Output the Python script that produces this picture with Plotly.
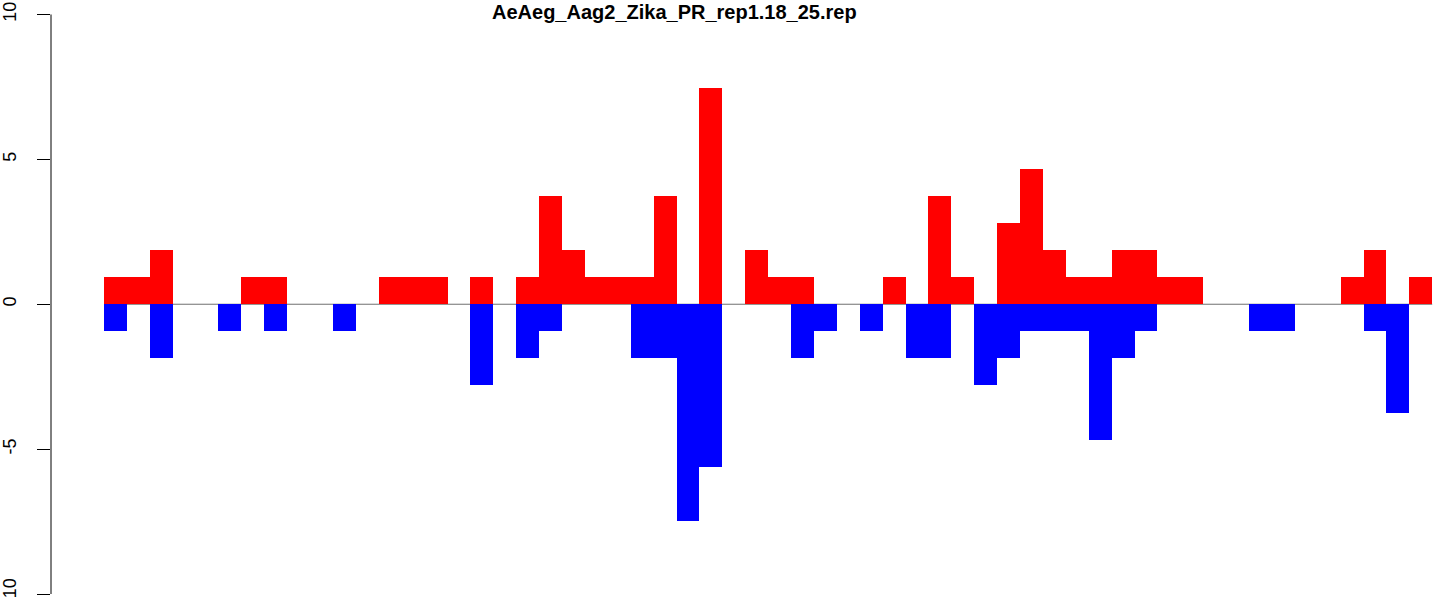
import plotly.graph_objects as go

# bin index (1..58) along the sequence
bins = list(range(1, 59))

# upper (red) values
sense = [0.93, 0.93, 1.87, 0, 0, 0, 0.93, 0.93, 0, 0,
         0, 0, 0.93, 0.93, 0.93, 0, 0.93, 0, 0.93, 3.74,
         1.87, 0.93, 0.93, 0.93, 3.74, 0, 7.47, 0, 1.87, 0.93,
         0.93, 0, 0, 0, 0.93, 0, 3.74, 0.93, 0, 2.80,
         4.67, 1.87, 0.93, 0.93, 1.87, 1.87, 0.93, 0.93, 0, 0,
         0, 0, 0, 0, 0.93, 1.87, 0, 0.93]

# lower (blue) values
antisense = [-0.93, 0, -1.87, 0, 0, -0.93, 0, -0.93, 0, 0,
             -0.93, 0, 0, 0, 0, 0, -2.80, 0, -1.87, -0.93,
             0, 0, 0, -1.87, -1.87, -7.47, -5.60, 0, 0, 0,
             -1.87, -0.93, 0, -0.93, 0, -1.87, -1.87, 0, -2.80, -1.87,
             -0.93, -0.93, -0.93, -4.67, -1.87, -0.93, 0, 0, 0, 0,
             -0.93, -0.93, 0, 0, 0, -0.93, -3.74, 0]

y_ticks = [-10, -5, 0, 5, 10]
y_tick_text = ["-10", "-5", "0", "5", "10"]
title = "AeAeg_Aag2_Zika_PR_rep1.18_25.rep"

xpos = [b - 0.5 for b in bins]

fig = go.Figure()
fig.add_trace(go.Bar(x=xpos, y=sense, width=1, marker=dict(color="#FF0000", line=dict(width=0)),
                     showlegend=False, hoverinfo="skip"))
fig.add_trace(go.Bar(x=xpos, y=antisense, width=1, marker=dict(color="#0000FF", line=dict(width=0)),
                     showlegend=False, hoverinfo="skip"))

FONT = "Liberation Sans, Arial, sans-serif"

fig.update_layout(
    width=1444, height=598,
    margin=dict(l=51, r=0, t=0, b=0, autoexpand=False),
    paper_bgcolor="white", plot_bgcolor="white",
    barmode="overlay", bargap=0,
    xaxis=dict(range=[-2.314, 58.515], showgrid=False, zeroline=False,
               showticklabels=False, ticks="", showline=False, automargin=False),
    yaxis=dict(range=[-10.138, 10.50], showgrid=False, zeroline=False, automargin=False,
               showline=False, tickmode="array", tickvals=y_ticks, ticktext=y_tick_text,
               ticks="outside", ticklen=13, tickwidth=1, tickcolor="black",
               tickangle=-90, tickfont=dict(family=FONT, size=18, color="black"),
               ticklabelstandoff=14, ticklabeloverflow="allow"),
    font=dict(family=FONT),
    shapes=[
        dict(type="line", xref="x", yref="y", x0=min(bins) - 1, x1=max(bins), y0=0, y1=0,
             line=dict(color="#707070", width=1), layer="below"),
        dict(type="line", xref="paper", yref="y", x0=0, x1=0, y0=min(y_ticks), y1=max(y_ticks),
             line=dict(color="black", width=1)),
    ],
    annotations=[
        dict(text="<b>" + title + "</b>", xref="paper", yref="paper",
             x=(674 - 51) / 1393, y=1, xanchor="center", yanchor="top",
             yshift=1, showarrow=False,
             font=dict(family=FONT, size=20, color="black")),
    ],
)

fig.write_html("out.html", config={"displayModeBar": False},
               post_script="document.body.style.margin='0';document.body.style.overflow='hidden';")
